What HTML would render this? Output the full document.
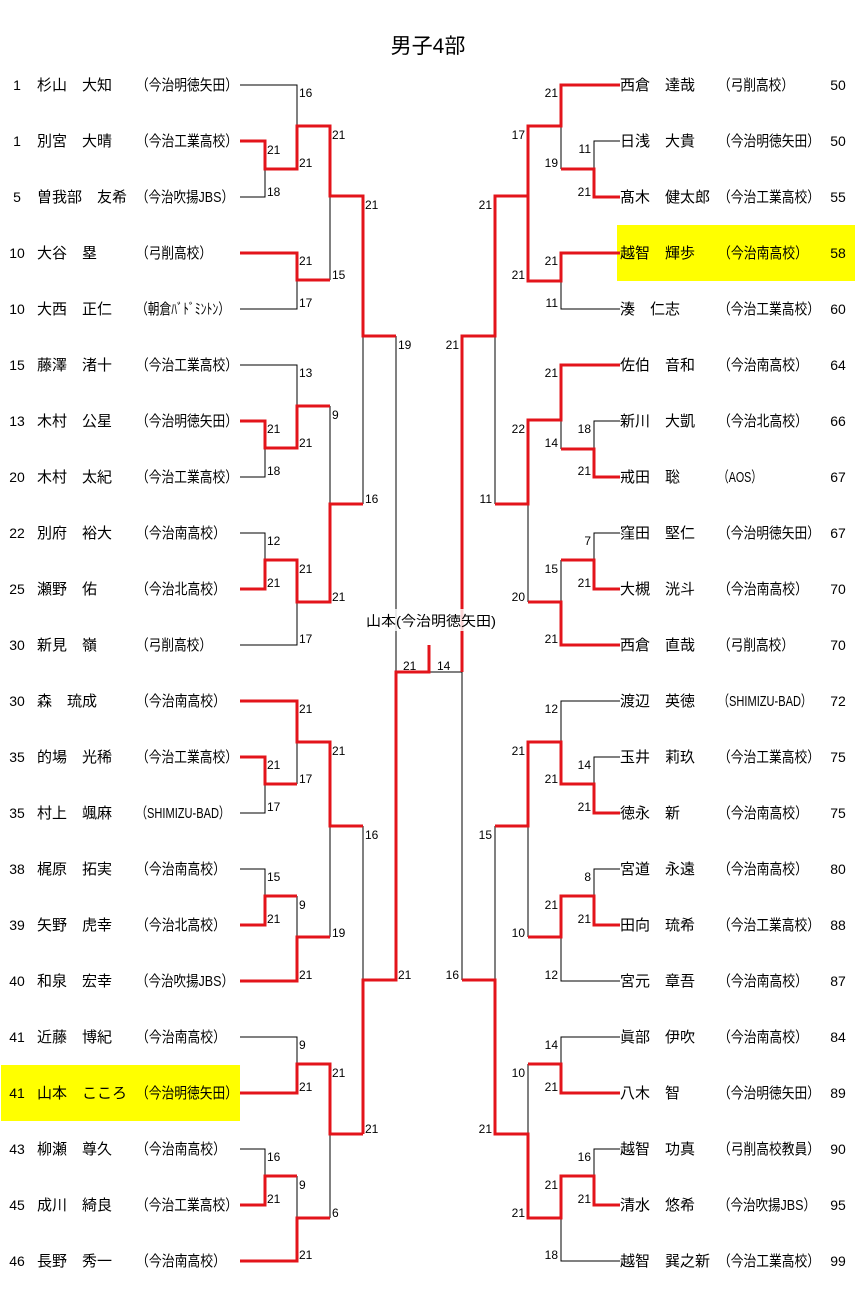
<!DOCTYPE html>
<html><head><meta charset="utf-8">
<style>
html,body{margin:0;padding:0;background:#fff;}
svg{display:block;}
text{font-family:"Liberation Sans","Noto Sans CJK JP",sans-serif;fill:#000;}
.nm{font-size:15px;}
.af{font-size:15px;}
.sc{font-size:12px;}
.nu{font-size:14px;}
.b{fill:none;stroke:#000;stroke-width:1;}
.r{fill:none;stroke:#e3141b;stroke-width:3;stroke-linejoin:miter;}
</style></head><body>
<svg width="855" height="1289" viewBox="0 0 855 1289" xmlns="http://www.w3.org/2000/svg">
<rect x="0" y="0" width="855" height="1289" fill="#fff"/>
<rect x="1" y="1065" width="239" height="56" fill="#ffff00"/>
<rect x="617" y="225" width="238" height="56" fill="#ffff00"/>
<text x="428" y="53" font-size="21" text-anchor="middle">男子4部</text>

<g class="b">
<polyline points="240,85 297,85 297,126"/>
<polyline points="240,197 265,197 265,169"/>
<polyline points="240,309 297,309 297,280"/>
<line x1="330" y1="196" x2="330" y2="280"/>
<polyline points="240,365 297,365 297,406"/>
<polyline points="240,477 265,477 265,448"/>
<line x1="330" y1="406" x2="330" y2="504"/>
<polyline points="240,533 265,533 265,560"/>
<polyline points="240,645 297,645 297,602"/>
<line x1="363" y1="336" x2="363" y2="504"/>
<line x1="396" y1="336" x2="396" y2="672"/>
<line x1="297" y1="742" x2="297" y2="784"/>
<polyline points="240,813 265,813 265,784"/>
<line x1="330" y1="826" x2="330" y2="937"/>
<polyline points="240,869 265,869 265,896"/>
<line x1="297" y1="896" x2="297" y2="937"/>
<line x1="363" y1="826" x2="363" y2="980"/>
<polyline points="240,1037 297,1037 297,1064"/>
<line x1="330" y1="1134" x2="330" y2="1218"/>
<polyline points="240,1149 265,1149 265,1176"/>
<line x1="297" y1="1176" x2="297" y2="1218"/>
<line x1="429" y1="672" x2="462" y2="672"/>
<polyline points="620,141 594,141 594,169"/>
<line x1="561" y1="126" x2="561" y2="169"/>
<polyline points="620,309 561,309 561,281"/>
<polyline points="620,421 594,421 594,449"/>
<line x1="561" y1="420" x2="561" y2="449"/>
<line x1="495" y1="336" x2="495" y2="504"/>
<polyline points="620,533 594,533 594,560"/>
<line x1="561" y1="560" x2="561" y2="602"/>
<line x1="528" y1="504" x2="528" y2="602"/>
<line x1="462" y1="672" x2="462" y2="980"/>
<polyline points="620,701 561,701 561,742"/>
<polyline points="620,757 594,757 594,784"/>
<line x1="528" y1="826" x2="528" y2="937"/>
<polyline points="620,869 594,869 594,896"/>
<polyline points="620,981 561,981 561,937"/>
<line x1="495" y1="826" x2="495" y2="980"/>
<polyline points="620,1037 561,1037 561,1064"/>
<line x1="528" y1="1064" x2="528" y2="1134"/>
<polyline points="620,1149 594,1149 594,1176"/>
<polyline points="620,1261 561,1261 561,1218"/>
</g>

<g class="r">
<polyline points="240,141 265,141 265,169 297,169 297,126 330,126 330,196 363,196 363,336 396,336"/>
<polyline points="240,253 297,253 297,280 330,280"/>
<polyline points="240,421 265,421 265,448 297,448 297,406 330,406"/>
<polyline points="240,589 265,589 265,560 297,560 297,602 330,602 330,504 363,504"/>
<polyline points="240,701 297,701 297,742 330,742 330,826 363,826"/>
<polyline points="240,757 265,757 265,784 297,784"/>
<polyline points="240,925 265,925 265,896 297,896"/>
<polyline points="240,981 297,981 297,937 330,937"/>
<polyline points="363,1134 363,980 396,980 396,672 429,672 429,645"/>
<polyline points="240,1093 297,1093 297,1064 330,1064 330,1134 363,1134"/>
<polyline points="240,1205 265,1205 265,1176 297,1176"/>
<polyline points="240,1261 297,1261 297,1218 330,1218"/>
<polyline points="620,85 561,85 561,126 528,126 528,281 561,281 561,253 620,253"/>
<polyline points="620,197 594,197 594,169 561,169"/>
<polyline points="528,196 495,196 495,336 462,336 462,672"/>
<polyline points="620,365 561,365 561,420 528,420 528,504 495,504"/>
<polyline points="620,477 594,477 594,449 561,449"/>
<polyline points="620,589 594,589 594,560 561,560"/>
<polyline points="528,602 561,602 561,645 620,645"/>
<polyline points="620,813 594,813 594,784 561,784 561,742 528,742 528,826 495,826"/>
<polyline points="620,925 594,925 594,896 561,896 561,937 528,937"/>
<polyline points="462,980 495,980 495,1134 528,1134 528,1218 561,1218 561,1176 594,1176 594,1205 620,1205"/>
<polyline points="620,1093 561,1093 561,1064 528,1064"/>
</g>

<rect x="362" y="609" width="138" height="22" fill="#fff" fill-opacity="0.82"/>
<text font-size="14" x="366" y="626" textLength="130" lengthAdjust="spacingAndGlyphs">山本(今治明徳矢田)</text>
<text class="sc" x="403" y="670">21</text>
<text class="sc" x="437" y="670">14</text>

<g class="sc">
<text x="299" y="97">16</text><text x="267" y="154">21</text><text x="299" y="167">21</text><text x="267" y="196">18</text>
<text x="332" y="139">21</text><text x="299" y="265">21</text><text x="332" y="279">15</text><text x="299" y="307">17</text>
<text x="365" y="209">21</text><text x="398" y="349">19</text>
<text x="299" y="377">13</text><text x="332" y="419">9</text><text x="267" y="433">21</text><text x="299" y="447">21</text>
<text x="267" y="475">18</text><text x="365" y="503">16</text><text x="267" y="545">12</text><text x="299" y="573">21</text>
<text x="267" y="587">21</text><text x="332" y="601">21</text><text x="299" y="643">17</text>
<text x="299" y="713">21</text><text x="332" y="755">21</text><text x="267" y="769">21</text><text x="299" y="783">17</text>
<text x="267" y="811">17</text><text x="365" y="839">16</text><text x="267" y="881">15</text><text x="299" y="909">9</text>
<text x="267" y="923">21</text><text x="332" y="937">19</text><text x="299" y="979">21</text><text x="398" y="979">21</text>
<text x="299" y="1049">9</text><text x="332" y="1077">21</text><text x="299" y="1091">21</text><text x="365" y="1133">21</text>
<text x="267" y="1161">16</text><text x="299" y="1189">9</text><text x="267" y="1203">21</text><text x="332" y="1217">6</text>
<text x="299" y="1259">21</text>
</g>
<g class="sc" text-anchor="end">
<text x="558" y="97">21</text><text x="525" y="139">17</text><text x="591" y="153">11</text><text x="558" y="167">19</text>
<text x="591" y="196">21</text><text x="492" y="209">21</text><text x="558" y="265">21</text><text x="525" y="279">21</text>
<text x="558" y="307">11</text><text x="459" y="349">21</text>
<text x="558" y="377">21</text><text x="525" y="433">22</text><text x="591" y="433">18</text><text x="558" y="447">14</text>
<text x="591" y="475">21</text><text x="492" y="503">11</text><text x="591" y="545">7</text><text x="558" y="573">15</text>
<text x="591" y="587">21</text><text x="525" y="601">20</text><text x="558" y="643">21</text>
<text x="558" y="713">12</text><text x="525" y="755">21</text><text x="591" y="769">14</text><text x="558" y="783">21</text>
<text x="591" y="811">21</text><text x="492" y="839">15</text><text x="591" y="881">8</text><text x="558" y="909">21</text>
<text x="591" y="923">21</text><text x="525" y="937">10</text><text x="558" y="979">12</text><text x="459" y="979">16</text>
<text x="558" y="1049">14</text><text x="525" y="1077">10</text><text x="558" y="1091">21</text><text x="492" y="1133">21</text>
<text x="591" y="1161">16</text><text x="558" y="1189">21</text><text x="591" y="1203">21</text><text x="525" y="1217">21</text>
<text x="558" y="1259">18</text>
</g>

<g class="nu" text-anchor="middle">
<text x="17" y="90">1</text><text x="17" y="146">1</text><text x="17" y="202">5</text><text x="17" y="258">10</text>
<text x="17" y="314">10</text><text x="17" y="370">15</text><text x="17" y="426">13</text><text x="17" y="482">20</text>
<text x="17" y="538">22</text><text x="17" y="594">25</text><text x="17" y="650">30</text><text x="17" y="706">30</text>
<text x="17" y="762">35</text><text x="17" y="818">35</text><text x="17" y="874">38</text><text x="17" y="930">39</text>
<text x="17" y="986">40</text><text x="17" y="1042">41</text><text x="17" y="1098">41</text><text x="17" y="1154">43</text>
<text x="17" y="1210">45</text><text x="17" y="1266">46</text>
</g>
<g class="nm">
<text x="37" y="90">杉山　大知</text><text x="37" y="146">別宮　大晴</text><text x="37" y="202">曽我部　友希</text>
<text x="37" y="258">大谷　塁</text><text x="37" y="314">大西　正仁</text><text x="37" y="370">藤澤　渚十</text>
<text x="37" y="426">木村　公星</text><text x="37" y="482">木村　太紀</text><text x="37" y="538">別府　裕大</text>
<text x="37" y="594">瀬野　佑</text><text x="37" y="650">新見　嶺</text><text x="37" y="706">森　琉成</text>
<text x="37" y="762">的場　光稀</text><text x="37" y="818">村上　颯麻</text><text x="37" y="874">梶原　拓実</text>
<text x="37" y="930">矢野　虎幸</text><text x="37" y="986">和泉　宏幸</text><text x="37" y="1042">近藤　博紀</text>
<text x="37" y="1098">山本　こころ</text><text x="37" y="1154">柳瀬　尊久</text><text x="37" y="1210">成川　綺良</text>
<text x="37" y="1266">長野　秀一</text>
</g>
<g class="af">
<text x="136" y="90" textLength="102" lengthAdjust="spacingAndGlyphs">（今治明徳矢田）</text>
<text x="136" y="146" textLength="102" lengthAdjust="spacingAndGlyphs">（今治工業高校）</text>
<text x="136" y="202" textLength="98" lengthAdjust="spacingAndGlyphs">（今治吹揚JBS）</text>
<text x="136" y="258" textLength="76" lengthAdjust="spacingAndGlyphs">（弓削高校）</text>
<text x="136" y="314" textLength="94" lengthAdjust="spacingAndGlyphs">（朝倉ﾊﾞﾄﾞﾐﾝﾄﾝ）</text>
<text x="136" y="370" textLength="102" lengthAdjust="spacingAndGlyphs">（今治工業高校）</text>
<text x="136" y="426" textLength="102" lengthAdjust="spacingAndGlyphs">（今治明徳矢田）</text>
<text x="136" y="482" textLength="102" lengthAdjust="spacingAndGlyphs">（今治工業高校）</text>
<text x="136" y="538" textLength="90" lengthAdjust="spacingAndGlyphs">（今治南高校）</text>
<text x="136" y="594" textLength="90" lengthAdjust="spacingAndGlyphs">（今治北高校）</text>
<text x="136" y="650" textLength="76" lengthAdjust="spacingAndGlyphs">（弓削高校）</text>
<text x="136" y="706" textLength="90" lengthAdjust="spacingAndGlyphs">（今治南高校）</text>
<text x="136" y="762" textLength="102" lengthAdjust="spacingAndGlyphs">（今治工業高校）</text>
<text x="136" y="818" textLength="94" lengthAdjust="spacingAndGlyphs">（SHIMIZU-BAD）</text>
<text x="136" y="874" textLength="90" lengthAdjust="spacingAndGlyphs">（今治南高校）</text>
<text x="136" y="930" textLength="90" lengthAdjust="spacingAndGlyphs">（今治北高校）</text>
<text x="136" y="986" textLength="98" lengthAdjust="spacingAndGlyphs">（今治吹揚JBS）</text>
<text x="136" y="1042" textLength="90" lengthAdjust="spacingAndGlyphs">（今治南高校）</text>
<text x="136" y="1098" textLength="102" lengthAdjust="spacingAndGlyphs">（今治明徳矢田）</text>
<text x="136" y="1154" textLength="90" lengthAdjust="spacingAndGlyphs">（今治南高校）</text>
<text x="136" y="1210" textLength="102" lengthAdjust="spacingAndGlyphs">（今治工業高校）</text>
<text x="136" y="1266" textLength="90" lengthAdjust="spacingAndGlyphs">（今治南高校）</text>
</g>

<g class="nm">
<text x="620" y="90">西倉　達哉</text><text x="620" y="146">日浅　大貴</text><text x="620" y="202">髙木　健太郎</text>
<text x="620" y="258">越智　輝歩</text><text x="620" y="314">湊　仁志</text><text x="620" y="370">佐伯　音和</text>
<text x="620" y="426">新川　大凱</text><text x="620" y="482">戒田　聡</text><text x="620" y="538">窪田　堅仁</text>
<text x="620" y="594">大槻　洸斗</text><text x="620" y="650">西倉　直哉</text><text x="620" y="706">渡辺　英徳</text>
<text x="620" y="762">玉井　莉玖</text><text x="620" y="818">徳永　新</text><text x="620" y="874">宮道　永遠</text>
<text x="620" y="930">田向　琉希</text><text x="620" y="986">宮元　章吾</text><text x="620" y="1042">眞部　伊吹</text>
<text x="620" y="1098">八木　智</text><text x="620" y="1154">越智　功真</text><text x="620" y="1210">清水　悠希</text>
<text x="620" y="1266">越智　巽之新</text>
</g>
<g class="af">
<text x="718" y="90" textLength="76" lengthAdjust="spacingAndGlyphs">（弓削高校）</text>
<text x="718" y="146" textLength="102" lengthAdjust="spacingAndGlyphs">（今治明徳矢田）</text>
<text x="718" y="202" textLength="102" lengthAdjust="spacingAndGlyphs">（今治工業高校）</text>
<text x="718" y="258" textLength="90" lengthAdjust="spacingAndGlyphs">（今治南高校）</text>
<text x="718" y="314" textLength="102" lengthAdjust="spacingAndGlyphs">（今治工業高校）</text>
<text x="718" y="370" textLength="90" lengthAdjust="spacingAndGlyphs">（今治南高校）</text>
<text x="718" y="426" textLength="90" lengthAdjust="spacingAndGlyphs">（今治北高校）</text>
<text x="718" y="482" textLength="44" lengthAdjust="spacingAndGlyphs">（AOS）</text>
<text x="718" y="538" textLength="102" lengthAdjust="spacingAndGlyphs">（今治明徳矢田）</text>
<text x="718" y="594" textLength="90" lengthAdjust="spacingAndGlyphs">（今治南高校）</text>
<text x="718" y="650" textLength="76" lengthAdjust="spacingAndGlyphs">（弓削高校）</text>
<text x="718" y="706" textLength="94" lengthAdjust="spacingAndGlyphs">（SHIMIZU-BAD）</text>
<text x="718" y="762" textLength="102" lengthAdjust="spacingAndGlyphs">（今治工業高校）</text>
<text x="718" y="818" textLength="90" lengthAdjust="spacingAndGlyphs">（今治南高校）</text>
<text x="718" y="874" textLength="90" lengthAdjust="spacingAndGlyphs">（今治南高校）</text>
<text x="718" y="930" textLength="102" lengthAdjust="spacingAndGlyphs">（今治工業高校）</text>
<text x="718" y="986" textLength="90" lengthAdjust="spacingAndGlyphs">（今治南高校）</text>
<text x="718" y="1042" textLength="90" lengthAdjust="spacingAndGlyphs">（今治南高校）</text>
<text x="718" y="1098" textLength="102" lengthAdjust="spacingAndGlyphs">（今治明徳矢田）</text>
<text x="718" y="1154" textLength="102" lengthAdjust="spacingAndGlyphs">（弓削高校教員）</text>
<text x="718" y="1210" textLength="98" lengthAdjust="spacingAndGlyphs">（今治吹揚JBS）</text>
<text x="718" y="1266" textLength="102" lengthAdjust="spacingAndGlyphs">（今治工業高校）</text>
</g>
<g class="nu" text-anchor="middle">
<text x="838" y="90">50</text><text x="838" y="146">50</text><text x="838" y="202">55</text><text x="838" y="258">58</text>
<text x="838" y="314">60</text><text x="838" y="370">64</text><text x="838" y="426">66</text><text x="838" y="482">67</text>
<text x="838" y="538">67</text><text x="838" y="594">70</text><text x="838" y="650">70</text><text x="838" y="706">72</text>
<text x="838" y="762">75</text><text x="838" y="818">75</text><text x="838" y="874">80</text><text x="838" y="930">88</text>
<text x="838" y="986">87</text><text x="838" y="1042">84</text><text x="838" y="1098">89</text><text x="838" y="1154">90</text>
<text x="838" y="1210">95</text><text x="838" y="1266">99</text>
</g>
</svg>
</body></html>
